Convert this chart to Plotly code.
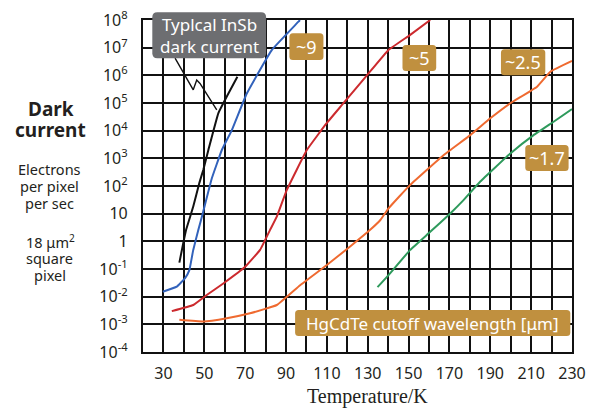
import plotly.graph_objects as go

# ---------------- data ----------------
insb_T = [37.8, 39.7, 41.1, 44.6, 47.6, 49.5, 52.0, 56.9, 61.8, 66.2]
insb_v = [1.7e-1, 8.5e-1, 2.6, 18, 1.3e2, 3.8e2, 2.0e3, 4.3e4, 2.2e5, 8.9e5]

c9_T = [29.7, 36.5, 40.6, 42.7, 44.6, 47.1, 49.5, 53.7, 58.6, 63.5, 70.8, 83.1, 96.1, 96.8]
c9_v = [1.5e-2, 2.3e-2, 4.7e-2, 9.1e-2, 4.9e-1, 2.6, 12, 1.9e2, 2.0e3, 1.05e4, 2.2e5, 8.3e6, 8.7e7, 1.0e8]

c5_T = [34.1, 44.6, 51.2, 59.3, 70.0, 77.3, 82.2, 85.5, 90.4, 100.2, 110.0, 117.4, 129.6, 140.2, 150.8, 160.6]
c5_v = [3.0e-3, 5.0e-3, 1.15e-2, 3.0e-2, 1.2e-1, 4.9e-1, 2.6, 7.8, 72, 2.0e3, 1.9e4, 8.5e4, 1.0e6, 8.3e6, 2.9e7, 1.0e8]

c25_T = [37.8, 49.5, 61.0, 72.4, 85.5, 96.9, 110.0, 121.4, 131.2, 136.2, 140.2, 150.8,
         167.1, 180.2, 190.0, 199.8, 212.9, 219.4, 230.0]
c25_v = [1.45e-3, 1.26e-3, 1.66e-3, 2.5e-3, 5.0e-3, 2.6e-2, 1.4e-1, 6.5e-1, 2.6, 5.9, 15.5, 1.1e2,
         1.3e3, 6.9e3, 2.8e4, 9.8e4, 3.9e5, 1.35e6, 3.3e6]

c17_T = [134.8, 140.2, 150.8, 160.6, 170.4, 176.9, 185.1, 199.8, 211.2, 221.0, 230.0]
c17_v = [2.2e-2, 6.0e-2, 4.9e-1, 2.2, 10.2, 31, 1.45e2, 1.5e3, 6.9e3, 2.1e4, 6.0e4]

# zig-zag leader from the InSb label to the black curve
lead_T = [35.7, 44.6, 46.3, 47.9, 56.1]
lead_v = [4.2e6, 3.0e5, 6.8e5, 5.1e5, 5.6e4]

x_grid = [20, 30, 40, 50, 60, 70, 80, 90, 100, 110, 120, 130, 140, 150, 160, 170, 180, 190, 200, 210, 220, 230]
x_ticks = [30, 50, 70, 90, 110, 130, 150, 170, 190, 210, 230]
x_labels = ["30", "50", "70", "90", "110", "130", "150", "170", "190", "210", "230"]
y_ticks = [1e-4, 1e-3, 1e-2, 1e-1, 1, 10, 1e2, 1e3, 1e4, 1e5, 1e6, 1e7, 1e8]
y_labels = ["10<sup>-4</sup>", "10<sup>-3</sup>", "10<sup>-2</sup>", "10<sup>-1</sup>", "1", "10",
            "10<sup>2</sup>", "10<sup>3</sup>", "10<sup>4</sup>", "10<sup>5</sup>", "10<sup>6</sup>",
            "10<sup>7</sup>", "10<sup>8</sup>"]

# ---------------- style ----------------
W, H = 595, 409
L, R, T, B = 143, 571.7, 20, 352
SANS = "Noto Sans"
GOLD = "#c0903f"
GREY = "#6d6e71"
dark = "#231f20"

def px(x):
    return (x - L) / (R - L)

def py(y):
    return (B - y) / (B - T)

def rbox(x0, y0, x1, y1, r=3.5, color=GOLD):
    p = (f"M {px(x0 + r)},{py(y0)} L {px(x1 - r)},{py(y0)} Q {px(x1)},{py(y0)} {px(x1)},{py(y0 + r)} "
         f"L {px(x1)},{py(y1 - r)} Q {px(x1)},{py(y1)} {px(x1 - r)},{py(y1)} "
         f"L {px(x0 + r)},{py(y1)} Q {px(x0)},{py(y1)} {px(x0)},{py(y1 - r)} "
         f"L {px(x0)},{py(y0 + r)} Q {px(x0)},{py(y0)} {px(x0 + r)},{py(y0)} Z")
    return dict(type="path", xref="paper", yref="paper", path=p, fillcolor=color,
                line=dict(width=0), layer="above")

fig = go.Figure()
for xs, ys, col in [
    (insb_T, insb_v, "#111111"),
    (c9_T, c9_v, "#3262bb"),
    (c5_T, c5_v, "#cc2a2e"),
    (c25_T, c25_v, "#ef6a30"),
    (c17_T, c17_v, "#2e9a5c"),
]:
    fig.add_trace(go.Scatter(x=xs, y=ys, mode="lines",
                             line=dict(color=col, width=2, shape="spline", smoothing=0.3),
                             hoverinfo="skip", showlegend=False))
fig.add_trace(go.Scatter(x=lead_T, y=lead_v, mode="lines", line=dict(color="#111111", width=1.4),
                         hoverinfo="skip", showlegend=False))

shapes = [
    rbox(152.3, 12.3, 266, 58.3, r=5, color=GREY),
    rbox(289.3, 33.3, 323.3, 60),
    rbox(402.3, 45, 436, 71),
    rbox(500.7, 49.3, 545, 75.3),
    rbox(525, 145, 568.3, 171),
    rbox(295, 310, 570, 336),
]

def ann(x, y, text, size, color="white", family=SANS, xanchor="center"):
    return dict(xref="paper", yref="paper", x=px(x), y=py(y), text=text, showarrow=False,
                font=dict(family=family, size=size, color=color), xanchor=xanchor, yanchor="middle")

annotations = [
    ann(209, 35.3, "Typlcal InSb<br>dark current", 17),
    ann(306.3, 46.7, "~9", 18),
    ann(419.1, 58, "~5", 18),
    ann(522.9, 62.3, "~2.5", 18),
    ann(546.7, 158, "~1.7", 18),
    ann(432.5, 323, "HgCdTe cutoff wavelength [μm]", 17),
    ann(51, 109, "<b>Dark</b>", 19, color=dark),
    ann(51, 130, "<b>current</b>", 19, color=dark),
    ann(50, 169, "Electrons", 14.5, color=dark),
    ann(50, 186, "per pixel", 14.5, color=dark),
    ann(50, 203, "per sec", 14.5, color=dark),
    ann(51, 241, "18 μm<sup>2</sup>", 14.5, color=dark),
    ann(50, 258, "square", 14.5, color=dark),
    ann(50, 275, "pixel", 14.5, color=dark),
    ann(367, 397, "Temperature/K", 20, color=dark, family="Liberation Serif"),
]

fig.update_layout(
    width=W, height=H,
    margin=dict(l=L, r=W - R, t=T, b=H - B, autoexpand=False),
    paper_bgcolor="white", plot_bgcolor="white",
    shapes=shapes, annotations=annotations,
    showlegend=False,
)
fig.update_xaxes(range=[20, 230], tickmode="array", tickvals=x_ticks, ticktext=x_labels,
                 showgrid=True, gridcolor="#111111", gridwidth=1.8,
                 minor=dict(tickmode="array", tickvals=x_grid, showgrid=True, gridcolor="#111111",
                            gridwidth=1.8, ticks=""),
                 showline=True, linecolor="#111111", linewidth=2.2, mirror=True,
                 ticks="", ticklabelstandoff=6, zeroline=False,
                 tickfont=dict(family=SANS, size=16, color=dark))
fig.update_yaxes(type="log", range=[-4, 8], tickmode="array", tickvals=y_ticks, ticktext=y_labels,
                 showgrid=True, gridcolor="#111111", gridwidth=1.8,
                 showline=True, linecolor="#111111", linewidth=2.2, mirror=True,
                 ticks="", ticklabelstandoff=10, zeroline=False,
                 tickfont=dict(family=SANS, size=16, color=dark))

fig.write_html("out.html", config={"displayModeBar": False},
               post_script="document.body.style.margin='0';")
